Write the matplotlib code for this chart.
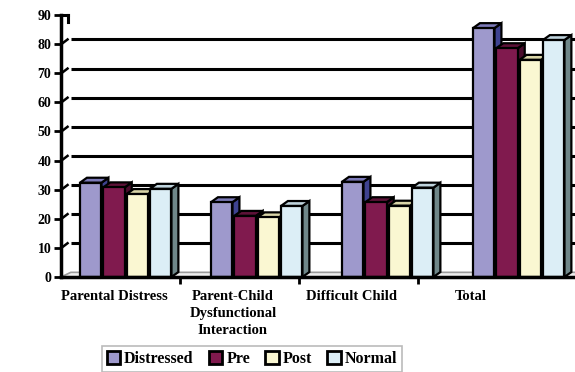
import matplotlib
matplotlib.use('Agg')
import matplotlib.pyplot as plt
from matplotlib.patches import Polygon, Patch

categories = ['Parental Distress', 'Parent-Child\nDysfunctional\nInteraction',
              'Difficult Child', 'Total']
series_names = ['Distressed', 'Pre', 'Post', 'Normal']
distressed = [32.4, 25.7, 32.7, 85.5]
pre = [30.8, 21.0, 25.7, 78.6]
post = [28.5, 20.5, 24.5, 74.6]
normal = [30.3, 24.4, 30.7, 81.4]
yticks = list(range(0, 91, 10))

series = [distressed, pre, post, normal]
front_colors = ['#9E99CC', '#801A4E', '#FAF7D2', '#DCEEF6']
top_colors = ['#7C7AB8', '#5E1238', '#D9D5A8', '#BFD3DC']
side_colors = ['#3E4290', '#4A0C2C', '#B8B58C', '#6F8789']

plt.rcParams['font.family'] = ['Liberation Serif', 'DejaVu Serif']
plt.rcParams['font.weight'] = 'bold'

W, H = 575, 372
fig = plt.figure(figsize=(W / 100, H / 100), dpi=100)
fig.patch.set_facecolor('white')
ax = fig.add_axes([61 / W, 95 / H, 514 / W, 262 / H])
XMAX = 514 / 131
ax.set_xlim(0, XMAX)
ax.set_ylim(0, 90)

# 3D depth offsets (data units)
DX, DY = 0.053, 1.7      # bars
GDX, GDY = 0.075, 1.6    # back wall / gridlines

# floor
floor = Polygon([(0, 0), (XMAX, 0), (XMAX + GDX, GDY), (GDX, GDY)],
                closed=True, facecolor='#eeeeee', edgecolor='#9a9a9a',
                linewidth=1.2, zorder=1, clip_on=False)
ax.add_patch(floor)

# gridlines on back wall
for v in yticks[1:-1]:
    ax.plot([GDX, XMAX], [v + GDY, v + GDY], color='black', lw=2.2,
            zorder=1, solid_capstyle='butt')
    ax.plot([0.012, 0.05], [v + 0.3, v + GDY], color='black', lw=1.8,
            zorder=1, clip_on=False)
# top edge of back wall at 90
ax.plot([0, 0.05], [90, 90], color='black', lw=2.2, zorder=1, clip_on=False)
ax.plot([0.05, 0.05], [90, 87.5], color='black', lw=2.2, zorder=1, clip_on=False)

STEP, BW = 0.178, 0.164
for j, (vals, fc, tc, sc) in enumerate(zip(series, front_colors, top_colors, side_colors)):
    lefts = [i + 0.5 - 0.355 + j * STEP for i in range(len(vals))]
    ax.bar(lefts, vals, width=BW, align='edge', color=fc, edgecolor='black',
           linewidth=1.6, zorder=3 + 2 * j, clip_on=False)
    for x0, v in zip(lefts, vals):
        x1 = x0 + BW
        top = Polygon([(x0, v), (x1, v), (x1 + DX, v + DY), (x0 + DX, v + DY)],
                      closed=True, facecolor=tc, edgecolor='black', linewidth=1.6,
                      zorder=2 + 2 * j, clip_on=False, joinstyle='miter')
        side = Polygon([(x1, 0), (x1 + DX, DY), (x1 + DX, v + DY), (x1, v)],
                       closed=True, facecolor=sc, edgecolor='black', linewidth=1.6,
                       zorder=2 + 2 * j, clip_on=False, joinstyle='miter')
        ax.add_patch(side)
        ax.add_patch(top)

# axes styling
for s in ['top', 'right']:
    ax.spines[s].set_visible(False)
for s in ['left', 'bottom']:
    ax.spines[s].set_linewidth(2.5)
    ax.spines[s].set_zorder(20)

ax.set_yticks(yticks)
ax.set_yticklabels([str(t) for t in yticks])
ax.tick_params(axis='y', direction='out', length=5, width=2, labelsize=10, pad=2)

TW = 119 / 131
ax.set_xticks([k * TW for k in range(1, 4)])
ax.set_xticklabels([])
ax.tick_params(axis='x', which='major', direction='out', length=5, width=2)
ax.set_xticks([(k + 0.5) * TW - 0.05 for k in range(len(categories))], minor=True)
ax.set_xticklabels(categories, minor=True, fontsize=10.5, fontweight='bold',
                   linespacing=1.45, va='top')
ax.tick_params(axis='x', which='minor', length=0, pad=9)

handles = [Patch(facecolor=c, edgecolor='black', linewidth=2) for c in front_colors]
leg = fig.legend(handles, series_names, loc='center',
                 bbox_to_anchor=(252 / W, 1 - 359 / H), ncol=4, frameon=True,
                 fancybox=False, edgecolor='#aaaaaa', handlelength=0.85,
                 handleheight=0.85, handletextpad=0.25, columnspacing=0.95,
                 borderpad=0.3, prop=dict(weight='bold', size=11.5))
leg.get_frame().set_linewidth(1.2)

fig.savefig('out.png', dpi=100, facecolor='white')
